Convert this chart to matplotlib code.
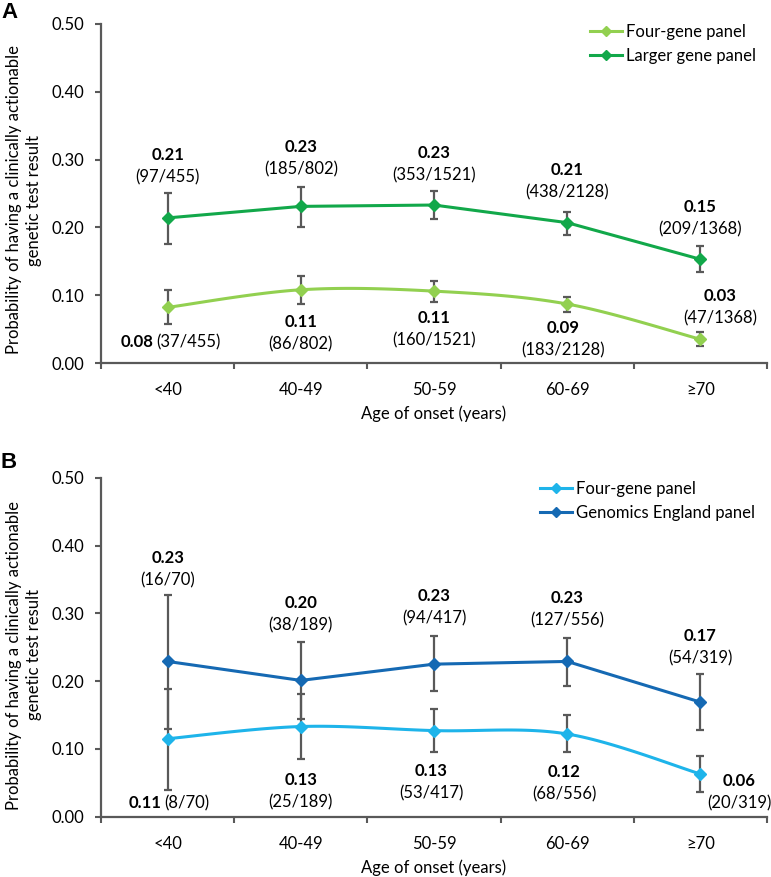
import numpy as np
import matplotlib.pyplot as plt

plt.rcParams['font.family'] = ['Lato', 'DejaVu Sans']

ages = ['<40', '40-49', '50-59', '60-69', '\u226570']

# panel A
a_four = [0.082, 0.108, 0.106, 0.087, 0.035]
a_four_lo = [0.057, 0.087, 0.090, 0.075, 0.025]
a_four_hi = [0.107, 0.128, 0.121, 0.098, 0.045]
a_four_val = ['0.08', '0.11', '0.11', '0.09', '0.03']
a_four_n = ['(37/455)', '(86/802)', '(160/1521)', '(183/2128)', '(47/1368)']
a_large = [0.214, 0.231, 0.233, 0.207, 0.153]
a_large_lo = [0.176, 0.201, 0.212, 0.189, 0.134]
a_large_hi = [0.251, 0.260, 0.253, 0.223, 0.172]
a_large_val = ['0.21', '0.23', '0.23', '0.21', '0.15']
a_large_n = ['(97/455)', '(185/802)', '(353/1521)', '(438/2128)', '(209/1368)']

# panel B
b_four = [0.115, 0.133, 0.127, 0.122, 0.063]
b_four_lo = [0.040, 0.085, 0.095, 0.095, 0.036]
b_four_hi = [0.189, 0.181, 0.159, 0.150, 0.090]
b_four_val = ['0.11', '0.13', '0.13', '0.12', '0.06']
b_four_n = ['(8/70)', '(25/189)', '(53/417)', '(68/556)', '(20/319)']
b_ge = [0.229, 0.201, 0.225, 0.229, 0.169]
b_ge_lo = [0.130, 0.144, 0.186, 0.193, 0.128]
b_ge_hi = [0.327, 0.258, 0.266, 0.263, 0.210]
b_ge_val = ['0.23', '0.20', '0.23', '0.23', '0.17']
b_ge_n = ['(16/70)', '(38/189)', '(94/417)', '(127/556)', '(54/319)']

# label placement (x offset, y of bold line); first four-gene label is one line
a_large_pos = [(0, 0.307), (0, 0.319), (0, 0.310), (0, 0.285), (0, 0.230)]
a_four_pos = [(-0.105, 0.031), (0, 0.0605), (0, 0.066), (-0.03, 0.052), (0.15, 0.099)]
b_ge_pos = [(0, 0.381), (0, 0.315), (0, 0.325), (0, 0.322), (0, 0.266)]
b_four_pos = [(-0.045, 0.020), (0, 0.054), (-0.02, 0.068), (-0.02, 0.066), (0.29, 0.053)]

grey = '#595959'
fs = 12


def smooth(x, y, n=30):
    # Excel-style smoothed line (Catmull-Rom / Bezier)
    x = np.asarray(x, float)
    y = np.asarray(y, float)
    p = np.column_stack([x, y])
    pts = []
    for i in range(len(p) - 1):
        p0 = p[i - 1] if i > 0 else p[i]
        p3 = p[i + 2] if i + 2 < len(p) else p[i + 1]
        c1 = p[i] + (p[i + 1] - p0) / 6
        c2 = p[i + 1] - (p3 - p[i]) / 6
        t = np.linspace(0, 1, n)[:, None]
        seg = ((1 - t) ** 3 * p[i] + 3 * (1 - t) ** 2 * t * c1
               + 3 * (1 - t) * t ** 2 * c2 + t ** 3 * p[i + 1])
        pts.append(seg)
    pts = np.vstack(pts)
    return pts[:, 0], pts[:, 1]


def panel(ax, low, high, names, colors):
    x = np.arange(len(ages))
    for k, (vals, lo, hi, labs, ns, pos, smoothed) in enumerate([low, high]):
        col = colors[k]
        yerr = [np.array(vals) - np.array(lo), np.array(hi) - np.array(vals)]
        ax.errorbar(x, vals, yerr=yerr, fmt='none', ecolor=grey, elinewidth=1.6,
                    capsize=3, capthick=1.6, zorder=2)
        if smoothed:
            sx, sy = smooth(x, vals)
        else:
            sx, sy = x, vals
        ax.plot(sx, sy, color=col, lw=2.2, zorder=3)
        ax.plot(x, vals, ls='none', marker='D', ms=6, color=col, zorder=4)
        ax.plot([], [], color=col, lw=2.2, marker='D', ms=5, label=names[k])
        for i in range(len(x)):
            dx, ty = pos[i]
            if k == 0 and i == 0:
                ax.text(x[i] + dx, ty, labs[i], ha='right', va='center',
                        fontsize=fs, fontweight='bold')
                ax.text(x[i] + dx + 0.02, ty, ns[i], ha='left', va='center',
                        fontsize=fs)
            else:
                ax.text(x[i] + dx, ty, labs[i], ha='center', va='center',
                        fontsize=fs, fontweight='bold')
                ax.text(x[i] + dx, ty - 0.033, ns[i], ha='center', va='center',
                        fontsize=fs)
    ax.set_xlim(-0.5, 4.5)
    ax.set_ylim(0, 0.5)
    ax.set_xticks(x)
    ax.set_xticklabels(ages, fontsize=fs)
    ax.set_xticks(np.arange(-0.5, 4.6, 1), minor=True)
    ax.tick_params(axis='x', which='major', length=0, pad=14)
    ax.tick_params(axis='x', which='minor', length=4, width=1.5, color=grey,
                   direction='out')
    ax.set_yticks(np.arange(0, 0.51, 0.1))
    ax.set_yticklabels(['%.2f' % v for v in np.arange(0, 0.51, 0.1)], fontsize=fs)
    ax.tick_params(axis='y', length=4, width=1.5, color=grey, pad=8)
    for s in ['top', 'right']:
        ax.spines[s].set_visible(False)
    for s in ['left', 'bottom']:
        ax.spines[s].set_color(grey)
        ax.spines[s].set_linewidth(1.6)
    ax.set_xlabel('Age of onset (years)', fontsize=fs, labelpad=5)


fig = plt.figure(figsize=(7.71, 8.77), dpi=100)
W, H = 771, 877
axA = fig.add_axes([101 / W, 1 - 363 / H, 666 / W, 339 / H])
axB = fig.add_axes([101 / W, 1 - 816.7 / H, 666 / W, 339 / H])

panel(axA,
      (a_four, a_four_lo, a_four_hi, a_four_val, a_four_n, a_four_pos, True),
      (a_large, a_large_lo, a_large_hi, a_large_val, a_large_n, a_large_pos, False),
      ['Four-gene panel', 'Larger gene panel'], ['#92D050', '#12A84A'])
panel(axB,
      (b_four, b_four_lo, b_four_hi, b_four_val, b_four_n, b_four_pos, True),
      (b_ge, b_ge_lo, b_ge_hi, b_ge_val, b_ge_n, b_ge_pos, False),
      ['Four-gene panel', 'Genomics England panel'], ['#1EB4EA', '#1569B3'])

axA.legend(loc='upper left', bbox_to_anchor=(0.734, 1.0), frameon=False,
           fontsize=fs, borderpad=0, borderaxespad=0, handlelength=1.9,
           handletextpad=0.25, labelspacing=0.45)
axB.legend(loc='upper left', bbox_to_anchor=(0.659, 0.99), frameon=False,
           fontsize=fs, borderpad=0, borderaxespad=0, handlelength=1.9,
           handletextpad=0.25, labelspacing=0.45)

ylab = 'Probability of having a clinically actionable\ngenetic test result'
fig.text(24 / W, 1 - 200 / H, ylab, rotation=90, ha='center', va='center',
         fontsize=fs, multialignment='center', linespacing=1.25)
fig.text(24 / W, 1 - 655 / H, ylab, rotation=90, ha='center', va='center',
         fontsize=fs, multialignment='center', linespacing=1.25)
fig.text(1 / W, 1 - 2 / H, 'A', fontsize=16, fontweight='bold', ha='left', va='top',
         family=['Liberation Sans', 'DejaVu Sans'])
fig.text(1 / W, 1 - 452 / H, 'B', fontsize=16, fontweight='bold', ha='left', va='top',
         family=['Liberation Sans', 'DejaVu Sans'])

fig.savefig('out.png', dpi=100)
